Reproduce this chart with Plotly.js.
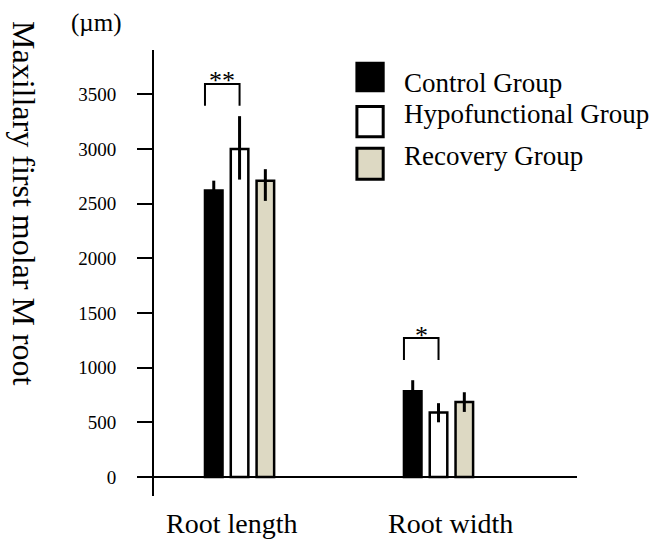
<!DOCTYPE html>
<html>
<head>
<meta charset="utf-8">
<script src="https://cdn.plot.ly/plotly-3.0.1.min.js"></script>
<style>html,body{margin:0;padding:0;background:#fff;}#chart{width:667px;height:544px;}</style>
</head>
<body>
<div id="chart"></div>
<script>
// ---- data ----
const categories = ['Root length', 'Root width'];
const seriesNames = ['Control Group', 'Hypofunctional Group', 'Recovery Group'];
const controlValues = [2620, 785];
const hypoValues = [3000, 590];
const recoveryValues = [2710, 685];
const controlErrPlus = [90, 100];
const controlErrMinus = [90, 100];
const hypoErrPlus = [300, 85];
const hypoErrMinus = [280, 90];
const recoveryErrPlus = [105, 90];
const recoveryErrMinus = [185, 90];
const yTickValues = [0, 500, 1000, 1500, 2000, 2500, 3000, 3500];
const yTickLabels = ['0', '500', '1000', '1500', '2000', '2500', '3000', '3500'];
const sigLabels = ['**', '*'];   // control vs hypofunctional, per category
const yTitle = 'Maxillary first molar M root';
const yUnit = '(\u00b5m)';

// ---- style ----
const FONT = 'Liberation Serif, Times New Roman, serif';
const fills = ['#000000', '#ffffff', '#DDD9C3'];
const W = 667, H = 544;
const L = 153.5, R = 576.7, T = 50, B = 495.7;
const px2x = p => (p - L) / (R - L);
const py2y = p => (B - p) / (B - T);
const bargap = 0.611, bargroupgap = 0.32;
const pitch = (1 - bargap) / 3;
const barW = pitch * (1 - bargroupgap);

const values = [controlValues, hypoValues, recoveryValues];
const errP = [controlErrPlus, hypoErrPlus, recoveryErrPlus];
const errM = [controlErrMinus, hypoErrMinus, recoveryErrMinus];

const traces = seriesNames.map((name, i) => ({
  type: 'bar',
  name: name,
  x: categories,
  y: values[i],
  marker: {color: fills[i], line: {color: '#000', width: 2.5}},
  error_y: {type: 'data', symmetric: false, array: errP[i], arrayminus: errM[i],
            color: '#000', thickness: 3, width: 0},
  hoverinfo: 'x+y'
}));

const shapes = [];
const annotations = [];

// baseline (x axis line extending slightly left of the y axis)
shapes.push({type: 'line', xref: 'paper', yref: 'y', x0: px2x(146), x1: 1, y0: 0, y1: 0,
             line: {color: '#000', width: 2}});

// significance brackets between control and hypofunctional bars
const sigPad = [95, 185], legH = 200;
categories.forEach((c, k) => {
  const top = Math.max(controlValues[k] + controlErrPlus[k], hypoValues[k] + hypoErrPlus[k]);
  const y0 = top + sigPad[k], y1 = y0 + legH;
  const xl = k - pitch - barW / 2, xr = k;
  shapes.push({type: 'path', xref: 'x', yref: 'y',
    path: `M ${xl} ${y0} L ${xl} ${y1} L ${xr} ${y1} L ${xr} ${y0}`,
    line: {color: '#000', width: 2}});
  annotations.push({xref: 'x', yref: 'y', x: (xl + xr) / 2, y: y1, text: sigLabels[k],
    showarrow: false, xanchor: 'center', yanchor: 'middle', yshift: 3,
    font: {family: FONT, size: 26, color: '#000'}});
});

// legend (custom, large squares)
const legendSq = [[61.7, 92.3], [105, 138.3], [146.7, 180.7]];
const legendTextY = [84.5, 116, 157.7];
seriesNames.forEach((name, i) => {
  shapes.push({type: 'rect', xref: 'paper', yref: 'paper',
    x0: px2x(356.5), x1: px2x(382.8), y0: py2y(legendSq[i][1] - 1.5), y1: py2y(legendSq[i][0] + 1.5),
    fillcolor: fills[i], line: {color: '#000', width: 3}});
  annotations.push({xref: 'paper', yref: 'paper', x: px2x(402), y: py2y(legendTextY[i]),
    text: name, showarrow: false, xanchor: 'left', yanchor: 'middle', yshift: 2,
    font: {family: FONT, size: 27, color: '#000'}});
});

// category labels
const catShift = [-8, 12];
categories.forEach((c, k) => {
  annotations.push({xref: 'x', yref: 'paper', x: c, y: py2y(525), xshift: catShift[k],
    text: c, showarrow: false, xanchor: 'center', yanchor: 'middle', yshift: 2,
    font: {family: FONT, size: 28, color: '#000'}});
});

// y title (reads top to bottom) and unit
annotations.push({xref: 'paper', yref: 'paper', x: px2x(24), y: py2y(202.5), text: yTitle,
  textangle: 90, showarrow: false, xanchor: 'center', yanchor: 'middle',
  font: {family: FONT, size: 32, color: '#000'}});
annotations.push({xref: 'paper', yref: 'paper', x: px2x(96), y: py2y(23.5), text: yUnit,
  showarrow: false, xanchor: 'center', yanchor: 'middle',
  font: {family: FONT, size: 25, color: '#000'}});

const layout = {
  width: W, height: H,
  margin: {l: L, r: W - R, t: T, b: H - B, pad: 0},
  paper_bgcolor: '#fff', plot_bgcolor: '#fff',
  showlegend: false,
  barmode: 'group', bargap: bargap, bargroupgap: bargroupgap,
  xaxis: {type: 'category', range: [-0.43, 1.696], showline: false, showgrid: false,
          zeroline: false, ticks: '', showticklabels: false, fixedrange: true},
  yaxis: {range: [-174, 3905], tickmode: 'array', tickvals: yTickValues, ticktext: yTickLabels,
          ticks: 'outside', ticklen: 15, tickwidth: 2, tickcolor: '#000',
          showline: true, linecolor: '#000', linewidth: 2, showgrid: false, zeroline: false,
          ticklabelstandoff: 17,
          tickfont: {family: FONT, size: 19, color: '#000'}, fixedrange: true},
  shapes: shapes,
  annotations: annotations,
  font: {family: FONT, color: '#000'}
};

Plotly.newPlot('chart', traces, layout, {displayModeBar: false, staticPlot: true});
</script>
</body>
</html>
